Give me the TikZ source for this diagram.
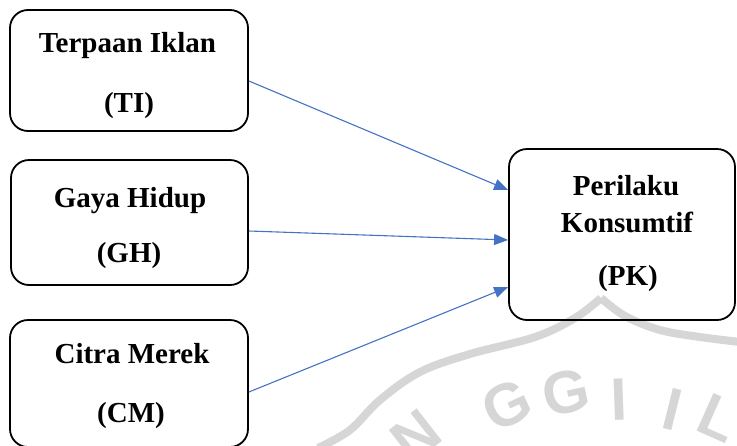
\documentclass[tikz,border=0pt]{standalone}
\usepackage{fontspec}
\setmainfont{Liberation Serif}
\newfontfamily\wmfont{Liberation Sans}
\usetikzlibrary{arrows.meta}
\definecolor{arrowblue}{HTML}{4472C4}
\definecolor{wmgray}{RGB}{214,214,214}
\begin{document}
\begin{tikzpicture}[x=1pt,y=-1pt,
  box/.style={draw=black, line width=1.8pt, rounded corners=18pt, inner sep=0pt},
  lbl/.style={font=\bfseries\fontsize{29}{29}\selectfont, anchor=base, inner sep=0pt},
  link/.style={draw=arrowblue, line width=1.1pt, -{Triangle[length=14pt,width=11pt]}},
  wm/.style={text=wmgray, font=\wmfont\bfseries\fontsize{60}{60}\selectfont, inner sep=0pt},
  band/.style={draw=wmgray, line width=8pt}]
\useasboundingbox (0,0) rectangle (737,445);
\clip (0,0) rectangle (737,445);
% watermark (faint logo)
\draw[band] plot[smooth, tension=0.6] coordinates {(318,448) (350,430) (380,400) (420,372) (470,354) (535,337) (575,318) (601,298)};
\draw[band] plot[smooth, tension=0.6] coordinates {(601,298) (625,316) (660,330) (700,337) (740,342)};
\node[wm, rotate=38] (wN) at (416,436) {N};
\node[wm, rotate=25] (wG1) at (507,405) {G};
\node[wm, rotate=12] (wG2) at (566,392) {G};
\node[wm, rotate=2] (wI1) at (619,400) {I};
\node[wm, rotate=-14] (wI2) at (673,409) {I};
\node[wm, rotate=-24] (wL) at (719,418) {L};
% boxes
\node[box, minimum width=238pt, minimum height=121pt] (TI) at (129,70.5) {};
\node[box, minimum width=237pt, minimum height=125pt] (GH) at (129.5,222.5) {};
\node[box, minimum width=238pt, minimum height=127pt] (CM) at (129,383.5) {};
\node[box, minimum width=226pt, minimum height=171pt] (PK) at (622,234.5) {};
% texts
\node[lbl] (TIa) at (127.5,52) {Terpaan Iklan};
\node[lbl] (TIb) at (129,112) {(TI)};
\node[lbl] (GHa) at (130,207) {Gaya Hidup};
\node[lbl] (GHb) at (129,262) {(GH)};
\node[lbl] (CMa) at (132,363) {Citra Merek};
\node[lbl] (CMb) at (131,422) {(CM)};
\node[lbl] (PKa) at (626,195) {Perilaku};
\node[lbl] (PKb) at (627,232) {Konsumtif};
\node[lbl] (PKc) at (628,285) {(PK)};
% connectors
\draw[link] ([yshift=-10.5pt]TI.east) -- ([yshift=44.5pt]PK.west);
\draw[link] ([yshift=-8.5pt]GH.east) -- ([yshift=-5.5pt]PK.west);
\draw[link] ([yshift=-8.5pt]CM.east) -- ([yshift=-52.5pt]PK.west);
\end{tikzpicture}
\end{document}
